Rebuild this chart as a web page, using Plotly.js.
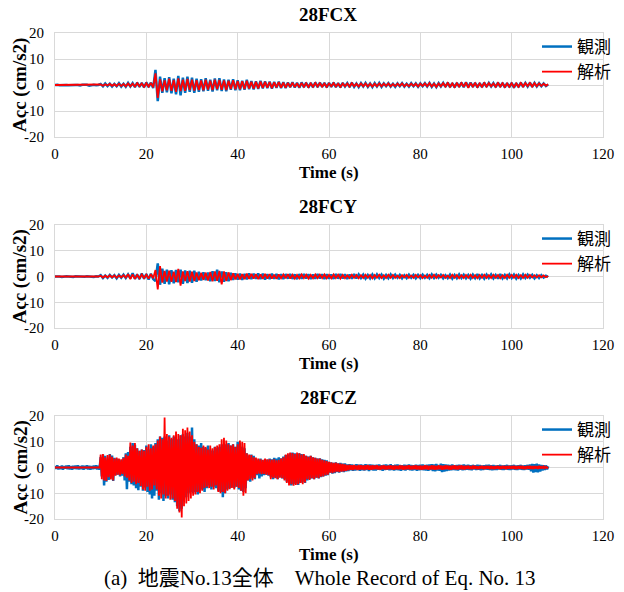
<!DOCTYPE html>
<html>
<head>
<meta charset="utf-8">
<script src="https://cdn.plot.ly/plotly-3.0.1.min.js"></script>
<style>html,body{margin:0;padding:0;background:#fff;}#chart{width:624px;height:592px;}</style>
</head>
<body>
<div id="chart"></div>
<script>
// Sampling steps of the digitised records (seconds)
const X_STEP = 0.5, Y_STEP = 0.5, Z_STEP = 0.25;

// Panel titles and legend names
const panelTitles = ["28FCX", "28FCY", "28FCZ"];
const seriesNames = ["観測", "解析"];
const xTickVals = [0, 20, 40, 60, 80, 100, 120];
const yTickVals = [-20, -10, 0, 10, 20];

// 28FCX observed (cm/s2), every 0.5 s from 0 to 108 s
const xObs = [
  0, 0.1, -0.1, 0, 0.1, 0, -0.1, 0, 0.1, 0, 0, -0.2, 0.1, 0, 0.1, -0.3, 0, 0.1, -0.1, 0,
  0.4, -0.5, 0.6, -0.4, 0.5, -0.6, 0.4, -0.5, 0.7, -0.6, 0.5, -0.7, 0.8, -0.6, 0.7, -0.8, 0.9, -0.7, 0.8, -0.9,
  1.0, -0.8, 0.9, -1.2, 5.8, -6.2, 3.2, -3.0, 2.6, -2.8, 3.0, -3.2, 2.4, -3.6, 3.5, -4.0, 2.8, -3.0, 3.2, -2.6,
  2.8, -3.0, 2.4, -2.6, 2.2, -2.4, 2.6, -2.2, 2.0, -2.5, 2.5, -2.0, 2.6, -2.3, 2.1, -2.4, 2.0, -1.8, 2.2, -2.0,
  1.8, -2.0, 1.6, -1.8, 2.0, -1.6, 1.5, -1.7, 1.4, -1.5, 1.6, -1.3, 1.4, -1.2, 1.3, -1.4, 1.2, -1.1, 1.3, -1.2,
  1.1, -1.2, 1.0, -0.9, 1.1, -1.0, 0.9, -1.1, 1.0, -0.8, 0.9, -1.0, 0.8, -0.9, 1.0, -0.8, 0.9, -0.7, 0.8, -0.9,
  0.8, -0.7, 0.9, -0.8, 0.7, -0.9, 0.8, -0.6, 0.7, -0.8, 0.9, -0.7, 0.6, -0.8, 0.7, -0.6, 0.8, -0.7, 0.6, -0.8,
  0.7, -0.6, 0.8, -0.7, 0.6, -0.5, 0.7, -0.6, 0.5, -0.7, 0.6, -0.5, 0.7, -0.6, 0.5, -0.6, 0.7, -0.5, 0.6, -0.7,
  0.6, -0.5, 0.7, -0.6, 0.8, -0.7, 0.6, -0.8, 0.7, -0.6, 0.8, -0.7, 0.9, -0.8, 0.7, -0.9, 0.8, -0.7, 0.9, -0.8,
  1.0, -0.8, 0.9, -0.7, 0.8, -0.9, 0.7, -0.8, 0.9, -0.7, 0.8, -0.6, 0.7, -0.8, 0.9, -0.7, 0.8, -0.9, 0.7, -0.8,
  0.8, -1.0, 0.7, -0.8, 0.9, -0.7, 0.8, -0.6, 0.9, -0.7, 0.8, -0.6, 0.7, -0.5, 0.6, -0.4, 0.2
];
// 28FCX analysis
const xSim = [
  0, 0, 0, 0, 0, 0, 0, 0, 0, 0, 0, 0, 0, 0, 0, 0, 0, 0, 0, 0,
  0.2, -0.3, 0.3, -0.2, 0.4, -0.3, 0.3, -0.4, 0.5, -0.4, 0.4, -0.5, 0.6, -0.5, 0.5, -0.6, 0.7, -0.5, 0.6, -0.7,
  0.7, -0.6, 0.8, -0.9, 4.5, -5.0, 2.2, -2.4, 1.8, -2.0, 2.4, -2.2, 1.9, -2.6, 2.5, -2.3, 2.0, -2.2, 2.3, -1.9,
  2.0, -2.1, 1.8, -1.9, 1.7, -2.0, 2.0, -1.7, 1.6, -1.9, 2.0, -1.6, 1.9, -1.8, 1.7, -1.9, 1.6, -1.5, 1.8, -1.6,
  1.5, -1.6, 1.4, -1.5, 1.6, -1.3, 1.2, -1.4, 1.2, -1.3, 1.3, -1.1, 1.2, -1.0, 1.1, -1.2, 1.0, -0.9, 1.1, -1.0,
  0.9, -1.0, 0.8, -0.8, 0.9, -0.8, 0.7, -0.9, 0.8, -0.7, 0.7, -0.8, 0.6, -0.7, 0.8, -0.6, 0.7, -0.6, 0.6, -0.7,
  0.6, -0.5, 0.7, -0.6, 0.5, -0.7, 0.6, -0.5, 0.6, -0.6, 0.7, -0.5, 0.5, -0.6, 0.6, -0.5, 0.6, -0.6, 0.5, -0.6,
  0.5, -0.5, 0.6, -0.5, 0.5, -0.4, 0.6, -0.5, 0.4, -0.5, 0.5, -0.4, 0.6, -0.5, 0.4, -0.5, 0.5, -0.4, 0.5, -0.6,
  0.5, -0.4, 0.6, -0.5, 0.7, -0.6, 0.5, -0.7, 0.6, -0.5, 0.7, -0.6, 0.8, -0.7, 0.6, -0.8, 0.7, -0.6, 0.8, -0.7,
  1.0, -1.1, 0.8, -0.6, 0.7, -0.8, 0.6, -0.7, 0.8, -0.6, 0.7, -0.5, 0.6, -0.7, 0.8, -0.6, 0.7, -0.8, 0.6, -0.7,
  0.7, -0.8, 0.6, -0.7, 0.8, -0.6, 0.7, -0.5, 0.8, -0.6, 0.7, -0.5, 0.6, -0.4, 0.5, -0.3, 0.3
];
// 28FCY observed, every 0.5 s
const yObs = [
  0, 0.1, 0, -0.2, 0, 0.1, 0, 0, -0.2, 0.1, 0, 0.1, 0, -0.1, 0.1, 0, 0, -0.2, 0.1, 0,
  0.5, -0.6, 0.4, -0.5, 0.6, -0.4, 0.5, -0.7, 0.6, -0.5, 0.7, -0.6, 0.8, -0.7, 1.3, -0.9, 0.8, -1.0, 1.2, -0.9,
  1.0, -1.2, 1.1, -1.0, -1.8, 5.1, -3.2, 3.0, -2.8, 2.6, -3.0, 2.4, -2.6, 2.5, -2.2, 2.6, -2.8, 2.3, -2.5, 2.2,
  -2.4, 2.2, -2.0, 1.8, -1.5, 1.6, -1.4, 1.5, -1.8, 2.0, -1.7, 2.6, -2.2, 1.9, -2.0, 1.6, -1.8, 1.4, -1.3, 1.2,
  -1.2, 1.1, -1.3, 1.0, -1.1, 1.2, -1.0, 1.1, -0.9, 1.2, -1.0, 1.1, -1.2, 0.9, -1.0, 1.1, -0.9, 1.0, -1.1, 0.9,
  -1.0, 0.9, -0.8, 1.0, -0.9, 0.8, -1.0, 0.9, -0.8, 0.9, -0.7, 0.8, -0.9, 0.7, -0.8, 0.9, -0.7, 0.8, -0.9, 0.8,
  -0.8, 0.7, -0.9, 1.0, -0.8, 0.9, -0.7, 0.8, -0.9, 0.7, -0.8, 0.9, -0.7, 0.8, -0.6, 0.7, -0.8, 0.6, -0.7, 0.8,
  -0.7, 0.8, -0.6, 0.7, -0.8, 0.6, -0.7, 0.8, -0.6, 0.7, -0.5, 0.6, -0.7, 0.5, -0.6, 0.7, -0.5, 0.6, -0.7, 0.6,
  -0.6, 0.7, -0.5, 0.6, -0.7, 0.8, -0.6, 0.7, -0.5, 0.6, -0.7, 0.5, -0.6, 0.7, -0.8, 0.6, -0.7, 0.8, -0.6, 0.7,
  -0.7, 0.6, -0.8, 0.7, -0.6, 0.9, -0.7, 0.6, -0.8, 0.7, -0.6, 0.8, -0.7, 0.6, -0.8, 0.9, -0.7, 0.6, -0.7, 0.8,
  -0.6, 0.7, -0.8, 0.6, -0.7, 0.8, -0.6, 0.7, -0.5, 0.6, -0.7, 0.5, -0.6, 0.5, -0.4, 0.3, -0.2
];
// 28FCY analysis
const ySim = [
  0, 0, 0, 0, 0, 0, 0, 0, 0, 0, 0, 0, 0, 0, 0, 0, 0, 0, 0, 0,
  0.3, -0.4, 0.3, -0.3, 0.4, -0.3, 0.4, -0.5, 0.4, -0.3, 0.5, -0.4, 0.9, -1.0, 0.8, -0.9, 0.6, -0.7, 0.8, -0.6,
  0.7, -0.8, 0.9, -0.7, 2.5, -5.0, 4.0, -2.4, 2.2, -2.0, 2.3, -2.1, 1.9, -2.2, 3.0, -3.5, 2.0, -1.8, 2.1, -2.0,
  1.9, -1.8, 1.6, -1.5, 1.4, -1.3, 1.5, -1.6, 1.8, -1.9, 2.0, -1.7, 2.2, -3.0, 2.0, -1.8, 1.6, -1.4, 1.2, -1.1,
  1.0, -1.1, 0.9, -1.0, 1.1, -0.9, 1.0, -0.8, 0.9, -1.0, 0.8, -0.9, 1.0, -0.8, 0.9, -0.8, 0.7, -0.9, 0.8, -0.7,
  0.8, -0.7, 0.9, -0.8, 0.7, -0.8, 0.6, -0.7, 0.8, -0.6, 0.7, -0.8, 0.6, -0.7, 0.8, -0.6, 0.7, -0.6, 0.8, -0.7,
  0.6, -0.7, 0.8, -0.6, 0.7, -0.8, 0.6, -0.7, 0.5, -0.6, 0.7, -0.5, 0.6, -0.7, 0.5, -0.6, 0.7, -0.5, 0.6, -0.7,
  0.6, -0.5, 0.7, -0.6, 0.5, -0.6, 0.7, -0.5, 0.6, -0.5, 0.4, -0.6, 0.5, -0.4, 0.6, -0.5, 0.4, -0.5, 0.6, -0.4,
  0.5, -0.6, 0.4, -0.5, 0.6, -0.5, 0.7, -0.6, 0.5, -0.4, 0.6, -0.5, 0.4, -0.6, 0.7, -0.5, 0.6, -0.7, 0.5, -0.6,
  0.6, -0.5, 0.7, -0.6, 0.5, -0.7, 0.6, -0.5, 0.7, -0.6, 0.5, -0.6, 0.7, -0.5, 0.6, -0.7, 0.5, -0.6, 0.7, -0.5,
  0.6, -0.5, 0.7, -0.6, 0.5, -0.6, 0.7, -0.5, 0.6, -0.4, 0.5, -0.4, 0.5, -0.3, 0.4, -0.3, 0.2
];
// 28FCZ observed, every 0.25 s from 0 to 108 s
const zObs = [
  0.6, -0.5, 0.8, -0.7, 0.4, -0.6, 0.7, -0.8, 0.5, -0.4, 0.7, -0.6, 0.8, -0.7, 0.5, -0.8, 0.6, -0.5, 0.7, -0.6,
  0.8, -0.7, 0.5, -0.6, 0.7, -0.8, 0.6, -0.5, 0.8, -0.7, 0.6, -0.8, 0.5, -0.6, 0.7, -0.5, 0.8, -0.7, 0.6, -0.8,
  4.0, -3.5, 5.0, -7.0, 4.5, -5.5, 3.0, -4.8, 5.2, -4.0, 4.6, -5.2, 3.8, -3.0, 3.5, -2.8, 3.2, -3.5, 2.8, -3.2,
  4.0, -5.0, 5.5, -8.4, 6.0, -5.5, 8.0, -6.5, 9.5, -7.0, 8.8, -8.0, 7.5, -8.8, 6.5, -7.5, 7.0, -9.0, 6.8, -7.8,
  8.5, -9.5, 7.0, -10.5, 9.0, -12.0, 8.0, -11.0, 9.5, -9.0, 11.0, -12.5, 12.0, -10.0, 11.5, -13.0,
  12.0, -11.0, 10.5, -12.0, 12.5, -10.5, 11.0, -12.5, 12.0, -13.5, 10.0, -15.0, 11.0, -17.0, 12.5, -16.0,
  13.0, -12.0, 12.0, -11.5, 13.5, -10.0, 12.0, -9.5,
  15.5, -10.0, 11.0, -9.5, 9.0, -10.5, 8.5, -9.0, 9.5, -8.5, 8.0, -9.5,
  7.5, -8.0, 8.5, -7.0, 7.0, -8.5, 6.5, -7.5, 8.0, -8.0, 7.5, -9.0, 8.0, -9.5, 9.0, -11.5,
  8.5, -10.0, 9.0, -8.5, 9.5, -8.0, 8.5, -7.5, 9.0, -8.0, 8.0, -7.5,
  10.0, -8.5, 9.5, -9.0, 8.0, -9.5, 7.5, -8.0,
  5.5, -5.0, 4.5, -5.5, 5.0, -4.0, 4.5, -4.5,
  3.5, -3.0, 3.0, -4.2, 3.5, -3.5, 2.8, -3.0, 3.2, -2.8, 3.0, -3.2,
  3.5, -3.8, 3.2, -4.5, 3.8, -4.0, 3.5, -4.5, 4.0, -3.8, 3.6, -4.2,
  4.2, -4.5, 4.8, -5.5, 5.0, -6.0, 5.5, -7.0, 5.8, -6.5, 5.5, -6.2, 5.0, -6.8, 5.5, -6.0, 5.2, -5.5, 4.8, -6.0,
  4.5, -5.0, 4.2, -4.5, 4.5, -4.2, 4.0, -4.5, 3.8, -4.0, 3.5, -4.2, 3.6, -3.8, 3.2, -3.5, 3.0, -3.2, 2.8, -3.0,
  2.2, -2.0, 2.0, -2.4, 1.8, -2.2, 2.0, -1.8, 1.6, -2.0, 1.8, -1.6, 1.5, -1.8, 1.6, -1.5,
  1.2, -1.4, 1.3, -1.1, 1.2, -1.3, 1.0, -1.2, 1.3, -1.0, 1.1, -1.3, 1.2, -1.1, 1.0, -1.2, 1.3, -1.0, 1.1, -1.4, 1.2, -1.0, 1.1, -1.2,
  1.0, -1.2, 1.1, -0.9, 1.2, -1.0, 0.9, -1.3, 1.1, -1.0, 1.2, -0.9, 1.0, -1.1, 1.3, -1.0, 0.9, -1.2, 1.1, -1.0,
  1.2, -1.1, 1.0, -1.3, 0.9, -1.0, 1.1, -1.2, 1.0, -0.9, 1.2, -1.1, 1.0, -1.2, 0.9, -1.0, 1.1, -1.3, 1.0, -1.1,
  1.1, -1.0, 1.2, -1.1, 1.0, -1.2, 1.1, -1.3, 1.2, -1.0, 1.3, -1.4, 1.2, -1.5, 1.4, -1.2, 1.0, -1.3, 1.5, -1.8,
  1.3, -1.6, 1.2, -1.4, 1.1, -1.2, 1.0, -1.1, 1.2, -1.0, 0.9, -1.1, 1.0, -1.2, 1.1, -0.9, 1.0, -1.1, 1.2, -1.0,
  1.0, -0.9, 1.1, -1.0, 0.9, -1.1, 1.0, -0.8, 0.9, -1.0, 1.1, -0.9, 1.0, -1.1, 0.8, -1.0, 0.9, -0.8, 1.0, -0.9,
  1.1, -1.0, 0.9, -1.1, 1.0, -0.9, 0.8, -1.0, 0.9, -0.8, 1.0, -0.9, 0.8, -1.0, 0.9, -0.8, 1.0, -0.9, 0.8, -1.0,
  0.9, -0.8, 1.0, -0.9, 0.8, -1.0, 0.9, -0.8, 1.0, -0.9, 0.8, -1.0, 0.9, -0.8, 1.0, -0.9,
  1.2, -1.5, 1.4, -2.0, 1.3, -1.8, 1.5, -1.9, 1.2, -1.6,
  1.0, -1.2, 0.9, -1.0, 0.8, -0.7, 0.5
];
// 28FCZ analysis, every 0.25 s
const zSim = [
  0, 0, 0, 0, 0, 0, 0, 0, 0, 0, 0, 0, 0, 0, 0, 0, 0, 0, 0, 0,
  0, 0, 0, 0, 0, 0, 0, 0, 0, 0, 0, 0, 0, 0, 0, 0, 0, 0, 0, 0,
  5.0, -4.5, 5.2, -5.0, 4.0, -5.2, 4.8, -3.8, 5.0, -4.6, 4.2, -5.0, 3.5, -3.2, 3.9, -2.8, 3.5, -3.0, 3.2, -2.5,
  3.8, -3.5, 5.0, -4.0, 4.5, -5.0, 9.7, -6.0, 8.5, -5.5, 9.5, -6.5, 7.5, -6.0, 6.5, -7.2, 7.0, -8.5, 6.5, -9.0,
  8.0, -7.5, 9.0, -9.0, 7.5, -8.5, 8.5, -7.0, 9.0, -8.5, 10.5, -11.0, 12.0, -12.0, 11.0, -10.5,
  19.4, -12.0, 13.0, -11.0, 12.0, -12.5, 11.5, -12.0, 12.5, -13.0, 14.0, -16.0, 13.0, -17.5, 12.5, -19.4,
  15.0, -15.0, 14.5, -14.0, 15.5, -13.0, 14.0, -12.0,
  12.5, -11.0, 10.0, -10.5, 9.0, -9.5, 8.0, -10.0, 7.7, -9.0, 8.5, -8.0,
  8.0, -7.5, 7.0, -8.0, 8.5, -7.5, 7.5, -8.5, 8.0, -7.0, 8.5, -9.5, 9.0, -10.0, 11.0, -9.5,
  11.5, -10.0, 10.5, -9.0, 9.0, -8.4, 8.5, -8.0, 9.0, -8.5, 8.0, -7.5,
  9.0, -8.0, 10.5, -9.0, 10.0, -11.0, 9.5, -10.0,
  5.5, -5.0, 5.0, -4.5, 4.8, -5.0, 4.0, -4.2,
  3.9, -2.6, 3.5, -2.4, 3.2, -2.6, 3.0, -2.5, 3.5, -2.8, 3.2, -3.0,
  3.2, -4.5, 3.0, -4.0, 3.2, -4.2, 2.8, -4.5, 3.0, -4.0, 3.5, -4.2,
  4.0, -5.0, 5.0, -6.0, 5.5, -7.0, 5.8, -6.5, 5.6, -7.1, 5.2, -6.8, 5.8, -6.5, 5.5, -6.0, 5.0, -6.5, 5.2, -5.8,
  4.5, -4.5, 4.2, -4.8, 4.5, -4.2, 4.0, -4.5, 3.8, -4.0, 3.5, -4.2, 3.5, -3.6, 3.0, -3.5, 2.8, -3.0, 2.5, -2.8,
  2.2, -2.0, 2.0, -2.2, 1.8, -1.9, 1.9, -1.6, 1.6, -1.8, 1.5, -1.6, 1.4, -1.5, 1.2, -1.3,
  1.0, -1.1, 1.1, -0.9, 0.9, -1.0, 1.0, -0.8, 0.8, -1.0, 1.0, -0.9, 0.9, -0.8, 0.8, -1.0, 0.9, -0.8, 1.0, -0.9, 0.8, -0.9, 0.9, -0.8,
  0.8, -0.7, 0.9, -0.8, 0.7, -0.9, 0.8, -0.7, 0.9, -0.8, 0.7, -0.8, 0.8, -0.7, 0.9, -0.8, 0.7, -0.9, 0.8, -0.7,
  0.7, -0.8, 0.9, -0.7, 0.8, -0.9, 0.7, -0.8, 0.8, -0.7, 0.9, -0.8, 0.7, -0.8, 0.8, -0.7, 0.9, -0.8, 0.7, -0.8,
  0.8, -0.9, 0.7, -0.8, 0.9, -0.7, 0.8, -0.9, 0.7, -0.8, 0.9, -0.8, 0.8, -0.9, 0.7, -0.8, 0.9, -0.7, 0.8, -0.9,
  0.7, -0.8, 0.9, -0.7, 0.8, -0.8, 0.7, -0.9, 0.8, -0.7, 0.9, -0.8, 0.7, -0.8, 0.8, -0.7, 0.9, -0.8, 0.7, -0.8,
  0.7, -0.6, 0.8, -0.7, 0.6, -0.7, 0.8, -0.6, 0.7, -0.6, 0.5, -0.7, 0.6, -0.5, 0.7, -0.6, 0.5, -0.6, 0.7, -0.5,
  0.6, -0.7, 0.7, -0.6, 0.5, -0.7, 0.6, -0.5, 0.7, -0.6, 0.5, -0.6, 0.7, -0.5, 0.6, -0.7, 0.6, -0.5, 0.7, -0.6,
  0.6, -0.5, 0.7, -0.6, 0.5, -0.6, 0.7, -0.5, 0.6, -0.5, 0.6, -0.7, 0.5, -0.6, 0.7, -0.5,
  0.6, -0.5, 0.5, -0.6, 0.6, -0.4, 0.5, -0.5, 0.6, -0.4,
  0.5, -0.4, 0.4, -0.3, 0.3, -0.2, 0.2
];

const timeOf = (arr, step) => arr.map((_, i) => i * step);

const W = 624, H = 592;
const px = v => v / W;          // pixel -> paper x
const py = v => 1 - v / H;      // pixel -> paper y

const SERIF = "'Liberation Serif', 'Times New Roman', 'Noto Sans CJK JP', serif";
const CJK = "'Noto Sans CJK JP', 'Liberation Serif', sans-serif";
const BLUE = "#0070C0", RED = "#FF0000";

// pixel geometry of the three panels
const plotLeft = 55, plotRight = 603;
const panels = [
  {top: 33, bottom: 137, obs: xObs, sim: xSim, step: X_STEP},
  {top: 225, bottom: 328, obs: yObs, sim: ySim, step: Y_STEP},
  {top: 416, bottom: 519, obs: zObs, sim: zSim, step: Z_STEP}
];

const traces = [];
const layout = {
  width: W, height: H,
  margin: {l: 0, r: 0, t: 0, b: 0},
  paper_bgcolor: "#ffffff",
  plot_bgcolor: "#ffffff",
  showlegend: true,
  font: {family: SERIF, color: "#000000", size: 15},
  annotations: []
};

panels.forEach((p, k) => {
  const sfx = k === 0 ? "" : String(k + 1);
  const legendId = "legend" + sfx;
  traces.push({
    type: "scatter", mode: "lines", name: seriesNames[0],
    x: timeOf(p.obs, p.step), y: p.obs, xaxis: "x" + sfx, yaxis: "y" + sfx,
    line: {color: BLUE, width: 2.5}, legend: legendId, hoverinfo: "skip"
  });
  traces.push({
    type: "scatter", mode: "lines", name: seriesNames[1],
    x: timeOf(p.sim, p.step), y: p.sim, xaxis: "x" + sfx, yaxis: "y" + sfx,
    line: {color: RED, width: 1.8}, legend: legendId, hoverinfo: "skip"
  });
  layout["xaxis" + sfx] = {
    domain: [px(plotLeft), px(plotRight)],
    anchor: "y" + sfx,
    range: [0, 120], tickvals: xTickVals, ticktext: xTickVals.map(String),
    showgrid: true, gridcolor: "#d9d9d9", gridwidth: 1,
    zeroline: false, showline: true, linecolor: "#d9d9d9", linewidth: 1, mirror: true,
    ticks: "outside", ticklen: 3, tickcolor: "rgba(0,0,0,0)",
    tickfont: {family: SERIF, size: 15, color: "#000"}
  };
  layout["yaxis" + sfx] = {
    domain: [py(p.bottom), py(p.top)],
    anchor: "x" + sfx,
    range: [-20, 20], tickvals: yTickVals, ticktext: yTickVals.map(String),
    showgrid: true, gridcolor: "#d9d9d9", gridwidth: 1,
    zeroline: false, showline: true, linecolor: "#d9d9d9", linewidth: 1, mirror: true,
    ticks: "outside", ticklen: 7, tickcolor: "rgba(0,0,0,0)",
    tickfont: {family: SERIF, size: 15, color: "#000"}
  };
  layout[legendId] = {
    x: px(537), y: py(p.top - 4), xanchor: "left", yanchor: "top",
    bgcolor: "rgba(0,0,0,0)", borderwidth: 0,
    font: {family: CJK, size: 17, color: "#000"},
    itemwidth: 30, tracegroupgap: 0
  };
  // panel title
  layout.annotations.push({
    xref: "paper", yref: "paper", x: px(328), y: py(p.top - 19),
    text: "<b>" + panelTitles[k] + "</b>", showarrow: false,
    font: {family: SERIF, size: 19, color: "#000"}, xanchor: "center", yanchor: "middle"
  });
  // x axis title
  layout.annotations.push({
    xref: "paper", yref: "paper", x: px(329), y: py(p.bottom + 35),
    text: "<b>Time (s)</b>", showarrow: false,
    font: {family: SERIF, size: 17, color: "#000"}, xanchor: "center", yanchor: "middle"
  });
  // y axis title
  layout.annotations.push({
    xref: "paper", yref: "paper", x: px(20), y: py((p.top + p.bottom) / 2),
    text: "<b>Acc (cm/s2)</b>", showarrow: false, textangle: -90,
    font: {family: SERIF, size: 19, color: "#000"}, xanchor: "center", yanchor: "middle"
  });
});

// caption
layout.annotations.push({
  xref: "paper", yref: "paper", x: px(320), y: py(578),
  text: "(a)  地震No.13全体　Whole Record of Eq. No. 13", showarrow: false,
  font: {family: SERIF, size: 21, color: "#000"}, xanchor: "center", yanchor: "middle"
});

Plotly.newPlot("chart", traces, layout, {staticPlot: true, displayModeBar: false});
</script>
</body>
</html>
